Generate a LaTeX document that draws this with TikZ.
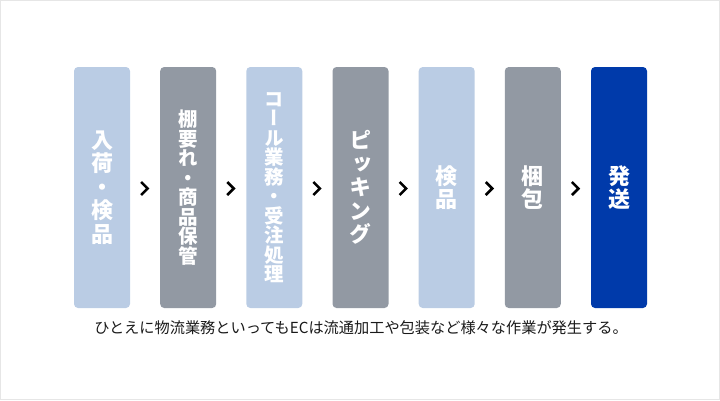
\documentclass[tikz,border=0pt]{standalone}
\usepackage{fontspec}
\setmainfont{Noto Sans CJK JP}
\newfontfamily\tatefont[RawFeature=+vert]{Noto Sans CJK JP}
\usetikzlibrary{calc}
\definecolor{steplight}{HTML}{BACCE4}
\definecolor{stepgray}{HTML}{9299A3}
\definecolor{stepdark}{HTML}{003AAA}
\definecolor{frameline}{HTML}{E6E6E6}
\tikzset{
	flowbox/.style={rectangle, rounded corners=4pt, minimum width=56pt, minimum height=241pt,
		inner sep=0pt, text=white, align=center, font=\tatefont\bfseries\fontsize{22}{23.5}\selectfont},
	flowsmall/.style={font=\tatefont\bfseries\fontsize{19.5}{19.5}\selectfont},
	chevron/.style={line width=2.6pt, line join=miter, black},
}
\begin{document}
\begin{tikzpicture}[x=1pt,y=-1pt]
		\useasboundingbox (0,0) rectangle (720,400);
		\draw[frameline, line width=1pt] (0.5,0.5) rectangle (719.5,399.5);
		%
		\node[flowbox, fill=steplight] (nyuka) at (102,187.5) {入\\荷\\・\\検\\品};
		\node[flowbox, flowsmall, fill=stepgray] (tanaire) at (188.2,187.5) {棚\\要\\れ\\・\\商\\品\\保\\管};
		\node[flowbox, flowsmall, fill=steplight] (juchu) at (274.3,187.5) {コ\\ー\\ル\\業\\務\\・\\受\\注\\処\\理};
		\node[flowbox, fill=stepgray] (picking) at (360.5,187.5) {ピ\\ッ\\キ\\ン\\グ};
		\node[flowbox, fill=steplight] (kenpin) at (446.7,187.5) {検\\品};
		\node[flowbox, fill=stepgray] (konpo) at (532.8,187.5) {梱\\包};
		\node[flowbox, fill=stepdark] (hasso) at (619,187.5) {発\\送};
		%
		\foreach \a/\b in {nyuka/tanaire, tanaire/juchu, juchu/picking, picking/kenpin, kenpin/konpo, konpo/hasso}{
			\coordinate (mid) at ($(\a.east)!0.5!(\b.west)$);
			\draw[chevron] ([xshift=-4pt,yshift=5.5pt]mid) -- ([xshift=2.5pt,yshift=-1pt]mid) -- ([xshift=-4pt,yshift=-7.5pt]mid);
		}
		%
		\node[font=\fontsize{15.2}{17}\selectfont, text=black!90] (note) at (361,328) {ひとえに物流業務といってもECは流通加工や包装など様々な作業が発生する。};
		%
	\end{tikzpicture}
\end{document}
